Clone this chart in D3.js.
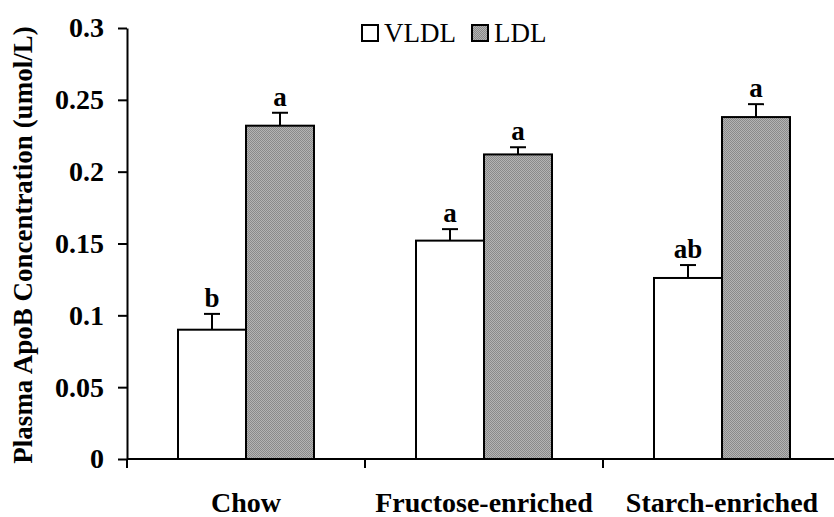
<!DOCTYPE html>
<html>
<head>
<meta charset="utf-8">
<script src="https://cdn.jsdelivr.net/npm/d3@7"></script>
<style>
  body { margin: 0; background: #fff; }
  svg text { font-family: "Liberation Serif", "Times New Roman", serif; }
</style>
</head>
<body>
<div id="chart"></div>
<script>
// data
var categories = ["Chow", "Fructose-enriched", "Starch-enriched"]
var seriesNames = ["VLDL", "LDL"]
var vldl = [0.090, 0.152, 0.126]
var ldl = [0.232, 0.212, 0.238]
var vldlErr = [0.011, 0.008, 0.009]
var ldlErr = [0.009, 0.005, 0.009]
var vldlLetters = ["b", "a", "ab"]
var ldlLetters = ["a", "a", "a"]
var yTicks = [0, 0.05, 0.1, 0.15, 0.2, 0.25, 0.3]

var width = 834, height = 517
var margin = {top: 28, right: 0, bottom: 58, left: 127}

var svg = d3.select("#chart").append("svg")
    .attr("width", width)
    .attr("height", height)

// dotted gray fill used for LDL
var defs = svg.append("defs")
var pat = defs.append("pattern")
    .attr("id", "dots")
    .attr("width", 2).attr("height", 2)
    .attr("patternUnits", "userSpaceOnUse")
pat.append("rect").attr("width", 2).attr("height", 2).attr("fill", "#b4b4b4")
pat.append("rect").attr("width", 1).attr("height", 1).attr("fill", "#8a8a8a")
pat.append("rect").attr("x", 1).attr("y", 1).attr("width", 1).attr("height", 1).attr("fill", "#8a8a8a")

var fills = ["#ffffff", "url(#dots)"]

var yScale = d3.scaleLinear().domain([0, 0.3]).range([height - margin.bottom, margin.top])
var xScale = d3.scaleBand().domain(categories).range([margin.left, margin.left + 238 * 3]).padding(0)
var xInner = d3.scaleBand().domain(seriesNames).range([0, 136])

// y axis
var yAxis = d3.axisLeft(yScale).tickValues(yTicks).tickSize(9).tickSizeOuter(0)
    .tickFormat(function(d) { return String(d) })
var gy = svg.append("g")
    .attr("transform", "translate(" + margin.left + ",0)")
    .call(yAxis)
gy.select(".domain").attr("stroke", "#000").attr("stroke-width", 2)
gy.selectAll(".tick line").attr("stroke", "#000").attr("stroke-width", 2)
gy.selectAll(".tick text")
    .attr("x", -23)
    .attr("font-size", 28).attr("font-weight", "bold").attr("fill", "#000")
    .attr("font-family", "Liberation Serif, serif")

// x axis line with ticks between categories
var y0 = yScale(0)
svg.append("line")
    .attr("x1", margin.left).attr("x2", width)
    .attr("y1", y0).attr("y2", y0)
    .attr("stroke", "#000").attr("stroke-width", 2)
var boundaries = [0, 1, 2].map(function(i) { return xScale(categories[i]) })
svg.selectAll(".xtick").data(boundaries).enter().append("line")
    .attr("x1", function(d) { return d }).attr("x2", function(d) { return d })
    .attr("y1", y0).attr("y2", y0 + 9)
    .attr("stroke", "#000").attr("stroke-width", 2)

svg.selectAll(".xlabel").data(categories).enter().append("text")
    .attr("x", function(d) { return xScale(d) + xScale.bandwidth() / 2 })
    .attr("y", 512)
    .attr("text-anchor", "middle")
    .attr("font-size", 28).attr("font-weight", "bold")
    .text(function(d) { return d })

// y title
svg.append("text")
    .attr("transform", "translate(32,245) rotate(-90)")
    .attr("text-anchor", "middle")
    .attr("font-size", 27).attr("font-weight", "bold")
    .text("Plasma ApoB Concentration (umol/L)")

// bars
var rows = []
categories.forEach(function(c, i) {
    rows.push({cat: c, s: 0, v: vldl[i], e: vldlErr[i], l: vldlLetters[i]})
    rows.push({cat: c, s: 1, v: ldl[i], e: ldlErr[i], l: ldlLetters[i]})
})
var groupOffset = (xScale.bandwidth() - 136) / 2

function barX(d) { return xScale(d.cat) + groupOffset + xInner(seriesNames[d.s]) }
function barMid(d) { return barX(d) + xInner.bandwidth() / 2 }

// error bars (drawn behind the bar outline)
svg.selectAll(".err").data(rows).enter().append("line")
    .attr("x1", barMid).attr("x2", barMid)
    .attr("y1", function(d) { return yScale(d.v) })
    .attr("y2", function(d) { return yScale(d.v + d.e) })
    .attr("stroke", "#000").attr("stroke-width", 2)
svg.selectAll(".cap").data(rows).enter().append("line")
    .attr("x1", function(d) { return barMid(d) - 8 })
    .attr("x2", function(d) { return barMid(d) + 8 })
    .attr("y1", function(d) { return yScale(d.v + d.e) })
    .attr("y2", function(d) { return yScale(d.v + d.e) })
    .attr("stroke", "#000").attr("stroke-width", 2)

svg.selectAll(".bar").data(rows).enter().append("rect")
    .attr("x", barX)
    .attr("y", function(d) { return yScale(d.v) })
    .attr("width", xInner.bandwidth())
    .attr("height", function(d) { return y0 - yScale(d.v) })
    .attr("fill", function(d) { return fills[d.s] })
    .attr("stroke", "#000").attr("stroke-width", 2)

svg.selectAll(".letter").data(rows).enter().append("text")
    .attr("x", barMid)
    .attr("y", function(d) { return yScale(d.v + d.e) - 7 })
    .attr("text-anchor", "middle")
    .attr("font-size", 27).attr("font-weight", "bold")
    .text(function(d) { return d.l })

// legend
var legend = svg.selectAll(".legend").data(seriesNames).enter().append("g")
    .attr("transform", function(d, i) { return "translate(" + (362 + i * 110) + ",25)" })
legend.append("rect")
    .attr("width", 16).attr("height", 16)
    .attr("fill", function(d, i) { return fills[i] })
    .attr("stroke", "#000").attr("stroke-width", 2)
legend.append("text")
    .attr("x", 22).attr("y", 17)
    .attr("font-size", 27)
    .text(function(d) { return d })
</script>
</body>
</html>
